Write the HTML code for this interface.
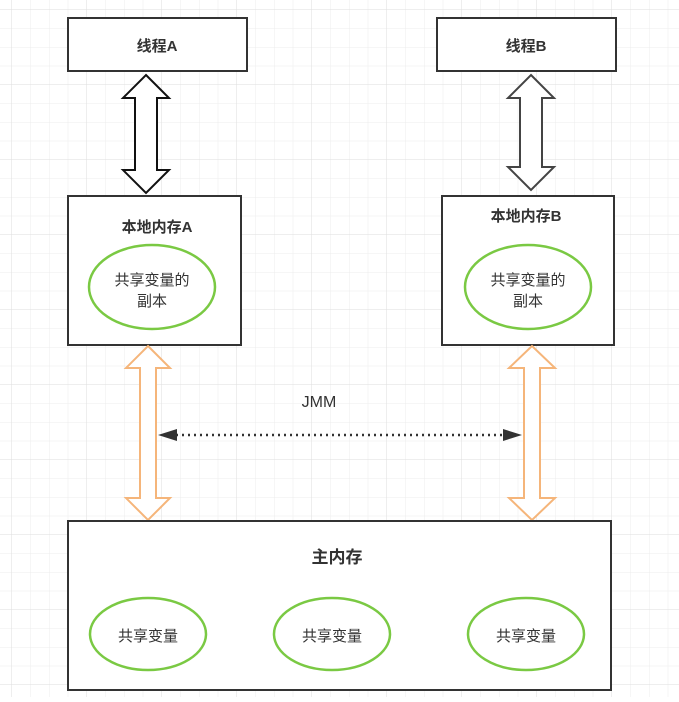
<!DOCTYPE html>
<html><head><meta charset="utf-8"><style>
html,body{margin:0;padding:0;background:#fff}
body{width:679px;height:697px;overflow:hidden}
svg text{font-family:"Liberation Sans","Noto Sans CJK SC",sans-serif;fill:#333}
</style></head><body>
<svg width="679" height="697" viewBox="0 0 679 697" xmlns="http://www.w3.org/2000/svg">
<defs>
<pattern id="g" width="18.75" height="18.75" patternUnits="userSpaceOnUse" x="12" y="10">
<path d="M18.75 0V18.75M0 18.75H18.75" stroke="#ececec" stroke-width="1" fill="none"/>
</pattern>
<pattern id="G" width="75" height="75" patternUnits="userSpaceOnUse" x="12" y="10">
<path d="M75 0V75M0 75H75" stroke="#dedede" stroke-width="1" fill="none"/>
</pattern>
</defs>
<rect width="679" height="697" fill="url(#g)"/>
<rect width="679" height="697" fill="url(#G)"/>

<rect x="68" y="18" width="179" height="53" fill="#fff" stroke="#333" stroke-width="2"/>
<text x="157" y="51" text-anchor="middle" font-size="15" font-weight="bold">线程A</text>
<rect x="437" y="18" width="179" height="53" fill="#fff" stroke="#333" stroke-width="2"/>
<text x="526" y="51" text-anchor="middle" font-size="15" font-weight="bold">线程B</text>

<polygon points="146,75 169,98 157,98 157,170 169,170 146,193 123,170 135,170 135,98 123,98" fill="#fff" stroke="#111" stroke-width="2"/>
<polygon points="531,75 554,98 542,98 542,167 554,167 531,190 508,167 520,167 520,98 508,98" fill="#fff" stroke="#444" stroke-width="2"/>

<rect x="68" y="196" width="173" height="149" fill="#fff" stroke="#333" stroke-width="2"/>
<text x="157" y="232" text-anchor="middle" font-size="15" font-weight="bold">本地内存A</text>
<ellipse cx="152" cy="287" rx="63" ry="42" fill="#fff" stroke="#7ac943" stroke-width="2.5"/>
<text x="152" y="285" text-anchor="middle" font-size="15">共享变量的</text>
<text x="152" y="306" text-anchor="middle" font-size="15">副本</text>

<rect x="442" y="196" width="172" height="149" fill="#fff" stroke="#333" stroke-width="2"/>
<text x="526" y="221" text-anchor="middle" font-size="15" font-weight="bold">本地内存B</text>
<ellipse cx="528" cy="287" rx="63" ry="42" fill="#fff" stroke="#7ac943" stroke-width="2.5"/>
<text x="528" y="285" text-anchor="middle" font-size="15">共享变量的</text>
<text x="528" y="306" text-anchor="middle" font-size="15">副本</text>

<polygon points="148,346 170,368 156,368 156,498 170,498 148,520 126,498 140,498 140,368 126,368" fill="#fff" stroke="#f5b57a" stroke-width="2"/>
<polygon points="532,346 555,368 540,368 540,498 555,498 532,520 509,498 524,498 524,368 509,368" fill="#fff" stroke="#f5b57a" stroke-width="2"/>

<text x="319" y="407" text-anchor="middle" font-size="16" fill="#444">JMM</text>
<line x1="176" y1="435" x2="504" y2="435" stroke="#333" stroke-width="2.5" stroke-dasharray="2,4"/>
<polygon points="158,435 177,429 177,441" fill="#333"/>
<polygon points="522,435 503,429 503,441" fill="#333"/>

<rect x="68" y="521" width="543" height="169" fill="#fff" stroke="#333" stroke-width="2"/>
<text x="337" y="563" text-anchor="middle" font-size="17" font-weight="bold">主内存</text>
<ellipse cx="148" cy="634" rx="58" ry="36" fill="#fff" stroke="#7ac943" stroke-width="2.5"/>
<text x="148" y="641" text-anchor="middle" font-size="15">共享变量</text>
<ellipse cx="332" cy="634" rx="58" ry="36" fill="#fff" stroke="#7ac943" stroke-width="2.5"/>
<text x="332" y="641" text-anchor="middle" font-size="15">共享变量</text>
<ellipse cx="526" cy="634" rx="58" ry="36" fill="#fff" stroke="#7ac943" stroke-width="2.5"/>
<text x="526" y="641" text-anchor="middle" font-size="15">共享变量</text>
</svg>
</body></html>
